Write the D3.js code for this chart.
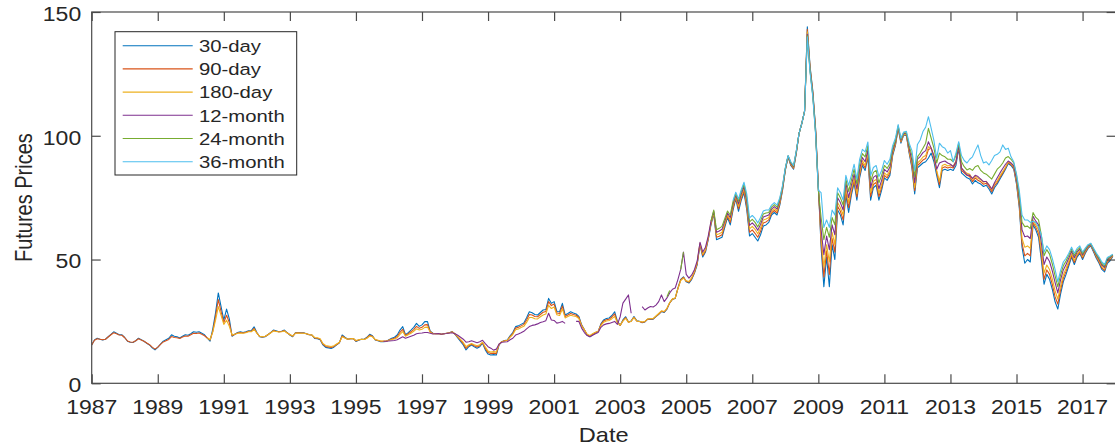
<!DOCTYPE html>
<html><head><meta charset="utf-8">
<script src="https://cdn.jsdelivr.net/npm/d3@7"></script>
<style>
html,body{margin:0;padding:0;background:#fff;}
svg{display:block;}
text{font-family:"Liberation Sans",Arial,Helvetica,sans-serif;fill:#262626;}
</style>
</head><body>
<svg id="chart" width="1115" height="446"></svg>
<script>
// ---------- data (monthly, Jan 1987 .. Dec 2017) ----------
const startYear = 1987;
const endYear = 2018;
const tickYears = [1987,1989,1991,1993,1995,1997,1999,2001,2003,2005,2007,2009,2011,2013,2015,2017];
const yTickValues = [0,50,100,150];
const seriesNames = ["30-day","90-day","180-day","12-month","24-month","36-month"];
const seriesColors = ["#0072BD","#D95319","#EDB120","#7E2F8E","#77AC30","#4DBEEE"];
const missing = n => Array(n).fill(null);

const d30 = [
15.5,17.5,18.2,17.8,17.5,17.8,18.8,19.8,20.8,20.2,19.6,19.6,
18.5,17.0,16.6,16.5,17.2,18.2,17.6,17.0,16.2,15.5,14.3,13.5,
14.5,15.8,17.0,17.6,18.2,19.6,19.0,18.8,18.3,19.0,19.6,19.4,
20.0,20.8,20.6,20.8,20.2,19.6,18.2,17.0,22.0,28.5,36.5,31.0,
25.5,30.0,26.0,19.0,19.8,20.5,20.8,20.5,20.8,21.2,21.3,22.8,
20.5,18.8,18.6,18.8,19.6,20.5,21.5,21.2,20.8,21.0,21.5,20.5,
19.5,18.8,20.4,20.5,20.4,20.4,20.0,19.6,19.5,18.1,18.0,17.6,
15.5,14.5,14.3,14.1,14.6,15.5,16.4,19.5,18.6,17.8,18.0,18.1,
16.9,17.4,17.8,17.8,18.6,19.8,19.2,17.5,17.2,16.8,16.8,16.9,
17.6,18.2,18.6,19.5,21.5,22.9,19.6,20.5,21.5,22.6,24.2,23.0,
23.6,24.9,24.9,21.0,20.2,20.0,20.1,19.8,20.0,20.2,20.4,20.9,
19.8,18.3,16.9,15.5,13.5,14.8,15.5,14.8,14.2,14.8,16.2,13.5,
11.8,11.4,11.6,11.4,15.5,16.8,17.3,17.5,19.2,20.5,22.9,23.2,
23.8,24.4,26.5,28.9,28.5,27.8,27.6,28.6,29.6,29.8,34.3,32.3,
33.0,29.0,28.9,32.3,27.6,28.2,28.9,28.4,28.0,27.0,23.6,21.6,
19.5,18.8,19.6,20.4,20.9,24.0,25.6,26.2,26.4,27.4,28.9,25.0,
23.4,25.6,26.9,24.8,25.2,27.0,25.3,25.1,24.5,24.8,25.9,26.0,
25.9,26.9,27.9,29.0,28.6,30.0,32.5,34.0,34.3,38.5,42.0,43.0,
41.0,40.5,42.0,44.5,48.0,56.0,51.0,53.0,58.0,64.0,68.5,58.0,
58.5,59.0,63.0,67.0,64.0,70.0,74.5,69.5,74.0,77.0,70.0,59.5,
60.5,59.0,57.5,60.0,63.5,64.0,65.0,68.0,69.0,68.0,72.0,78.0,
86.0,91.5,88.0,86.5,93.0,101.0,105.0,110.0,144.0,128.0,118.0,103.0,
80.0,55.0,39.0,51.0,39.0,56.0,50.0,70.0,68.0,64.0,76.0,69.0,
76.0,81.0,74.0,83.0,88.0,86.0,91.5,74.0,79.0,80.0,74.0,78.0,
83.0,82.0,84.0,92.0,96.0,103.0,97.0,100.3,100.0,93.0,87.0,76.5,
87.0,88.0,89.0,89.5,91.0,93.0,89.5,84.0,79.0,86.0,86.5,86.0,
86.5,86.0,88.0,95.0,85.0,84.0,83.0,82.5,80.5,82.0,81.0,80.5,
79.5,80.0,78.5,76.5,79.0,80.5,82.5,84.5,86.5,88.8,88.0,86.5,
80.5,71.0,55.0,48.5,50.0,49.0,64.0,62.0,59.0,50.0,40.0,44.0,
42.0,38.0,33.0,30.0,36.0,41.0,44.0,47.5,51.0,48.0,51.0,52.5,
50.0,52.5,54.5,55.5,53.0,50.5,48.5,46.0,45.0,48.5,49.5,51.2
];

const d90 = [
15.5,17.4,18.0,17.8,17.6,17.8,18.7,19.6,20.4,20.0,19.5,19.4,
18.4,17.1,16.7,16.6,17.2,18.0,17.5,17.0,16.3,15.6,14.6,13.8,
14.6,15.7,16.7,17.2,17.7,18.9,18.5,18.4,18.1,18.7,19.1,19.0,
19.6,20.2,20.1,20.3,19.8,19.2,18.3,17.5,21.0,27.0,33.8,29.0,
24.5,27.5,24.5,19.2,19.8,20.3,20.5,20.3,20.6,21.0,21.0,22.2,
20.4,18.9,18.7,18.9,19.6,20.4,21.3,21.0,20.8,20.9,21.3,20.4,
19.6,19.0,20.3,20.4,20.3,20.3,20.0,19.6,19.5,18.3,18.2,17.8,
15.8,14.9,14.7,14.5,14.9,15.7,16.5,19.1,18.4,17.8,18.0,18.1,
17.1,17.5,17.8,17.7,18.4,19.4,19.0,17.6,17.3,17.0,17.0,17.0,
17.5,17.9,18.2,18.9,20.6,21.8,19.3,20.0,20.8,21.7,23.0,22.2,
22.6,23.6,23.7,20.8,20.1,20.0,20.1,19.8,20.0,20.2,20.4,20.8,
19.9,18.6,17.3,16.0,14.1,15.2,15.8,15.2,14.7,15.2,16.4,14.1,
12.4,12.0,12.2,12.0,15.6,16.8,17.2,17.4,18.9,20.1,22.3,22.6,
23.2,23.8,25.6,27.8,27.6,27.0,26.9,27.8,28.7,29.0,33.0,31.4,
32.0,28.4,28.2,31.2,27.0,27.6,28.2,27.8,27.5,26.6,23.4,21.6,
19.6,19.0,19.8,20.5,20.9,23.7,25.2,25.7,25.9,26.8,28.0,24.7,
23.4,25.3,26.5,24.7,25.1,26.7,25.2,25.0,24.6,24.9,25.9,26.0,
26.0,27.0,28.0,29.1,28.8,30.1,32.5,34.0,34.4,38.4,41.8,42.8,
41.2,40.8,42.3,44.8,48.4,56.3,51.6,53.5,58.4,64.5,68.8,59.0,
59.4,60.0,63.8,67.6,65.0,70.8,75.0,70.5,74.8,77.8,71.2,61.0,
62.0,60.6,59.0,61.4,64.8,65.2,66.0,68.8,69.8,68.8,72.6,78.4,
86.2,91.6,88.3,86.8,93.2,101.0,105.0,110.0,143.0,127.5,117.5,102.5,
79.5,57.0,43.0,53.5,44.0,58.5,53.0,71.5,69.5,66.0,77.5,71.0,
77.2,82.0,75.3,84.0,89.0,87.0,92.3,75.5,80.3,81.2,75.4,79.2,
84.0,83.0,85.0,92.6,96.4,103.2,97.5,100.5,100.2,93.5,87.8,77.8,
88.0,89.0,90.2,90.8,94.5,95.0,91.0,85.3,80.3,87.0,87.5,87.0,
87.4,87.0,89.0,95.6,86.0,85.0,84.0,83.5,81.5,83.0,82.0,81.4,
80.4,80.8,79.4,77.4,79.8,81.2,83.2,85.0,87.0,89.2,88.4,87.0,
81.2,72.0,56.5,51.5,52.5,51.5,65.0,63.0,60.5,52.0,42.0,45.8,
44.0,40.0,35.0,32.0,37.6,42.4,45.2,48.4,51.7,48.8,51.6,53.0,
50.6,53.0,54.9,55.8,53.4,51.0,49.0,46.6,45.6,49.0,50.0,51.5
];

const d180 = [
...missing(36),
...missing(6),18.4,17.6,20.8,25.5,31.0,27.5,
23.8,25.5,23.0,19.5,19.8,20.2,20.3,20.2,20.4,20.8,20.8,21.8,
20.3,19.0,18.8,19.0,19.6,20.3,21.1,20.9,20.7,20.8,21.1,20.3,
19.7,19.1,20.2,20.3,20.2,20.2,20.0,19.7,19.5,18.5,18.4,18.0,
16.1,15.3,15.1,14.9,15.2,15.9,16.6,18.8,18.3,17.8,18.0,18.1,
17.3,17.6,17.8,17.7,18.2,19.1,18.8,17.7,17.4,17.1,17.1,17.1,
17.4,17.7,17.9,18.4,19.8,20.9,19.0,19.6,20.2,21.0,22.0,21.5,
21.8,22.6,22.7,20.6,20.0,20.0,20.1,19.8,20.0,20.2,20.4,20.7,
20.0,18.9,17.7,16.5,14.8,15.6,16.1,15.6,15.2,15.6,16.6,14.7,
13.0,12.6,12.8,12.6,15.7,16.8,17.1,17.3,18.6,19.7,21.6,21.9,
22.5,23.0,24.6,26.6,26.6,26.1,26.0,26.9,27.6,28.0,31.5,30.2,
30.8,27.7,27.4,30.0,26.4,27.0,27.5,27.2,27.0,26.2,23.2,21.6,
19.8,19.3,20.0,20.6,20.9,23.3,24.7,25.2,25.4,26.1,27.0,24.4,
23.5,25.1,26.2,24.7,25.1,26.5,25.2,25.0,24.8,25.0,26.0,26.2,
26.2,27.2,28.2,29.3,29.0,30.3,32.6,34.1,34.5,38.3,41.5,42.5,
41.4,41.1,42.7,45.2,48.8,56.6,52.2,54.0,58.8,64.9,69.0,60.0,
60.4,61.0,64.6,68.2,66.0,71.6,75.5,71.5,75.6,78.6,72.4,62.4,
63.4,62.2,60.4,62.8,66.0,66.4,67.0,69.6,70.6,69.6,73.2,78.8,
86.4,91.7,88.6,87.1,93.4,101.0,105.0,110.0,142.0,127.0,117.0,102.0,
79.0,59.0,47.0,56.0,49.0,61.0,56.0,73.0,71.0,68.0,79.0,73.0,
78.4,83.0,76.6,85.0,90.0,88.0,93.1,77.0,81.6,82.4,76.8,80.4,
85.0,84.0,86.0,93.2,96.8,103.4,97.8,100.7,100.4,94.0,88.6,79.0,
89.0,90.0,91.4,92.0,95.6,95.0,91.6,86.0,81.6,88.0,88.5,87.8,
88.2,87.8,89.8,96.0,86.8,85.8,84.8,84.4,82.4,83.8,82.8,82.2,
81.2,81.6,80.2,78.2,80.6,81.8,83.8,85.5,87.4,89.5,88.7,87.4,
81.8,73.0,58.5,55.0,55.5,54.5,66.0,64.0,62.0,54.0,44.5,47.8,
46.0,42.2,37.4,34.0,39.3,43.8,46.4,49.3,52.4,49.6,52.2,53.5,
51.2,53.4,55.2,56.0,53.7,51.4,49.5,47.2,46.2,49.5,50.4,51.7
];

const d12m = [
...missing(96),
...missing(10),17.0,17.0,
17.1,17.2,17.3,17.6,18.2,18.8,18.2,18.6,19.0,19.4,20.0,20.2,
20.3,20.5,20.5,20.2,19.9,20.0,20.1,19.8,20.0,20.1,20.3,20.4,
20.0,19.4,18.6,17.8,16.6,16.8,17.2,16.8,16.4,16.8,17.4,16.0,
14.8,14.2,13.4,13.8,15.9,16.6,16.7,16.8,17.6,18.2,19.5,19.9,
20.4,21.0,22.0,22.9,23.4,23.6,24.0,24.6,24.9,25.3,28.3,25.6,
25.4,24.3,24.6,25.0,24.2,null,null,null,25.0,25.0,22.3,20.5,
19.3,18.8,19.4,20.0,20.5,22.6,23.6,24.0,24.2,24.6,25.0,23.8,
26.9,32.4,34.0,35.7,28.3,null,null,null,31.0,29.6,30.4,31.0,
30.8,31.6,33.0,35.7,33.0,34.5,36.5,38.0,38.5,42.0,46.0,53.0,
44.0,42.5,43.8,46.0,49.5,57.0,53.0,55.0,59.5,65.5,69.5,61.0,
61.5,62.2,65.5,68.8,67.0,72.5,76.0,72.5,76.5,79.5,73.6,63.8,
64.8,63.6,61.8,64.2,67.2,67.6,68.0,70.4,71.4,70.4,73.8,79.2,
86.6,91.8,88.9,87.4,93.6,101.0,105.0,110.0,141.0,126.5,116.5,101.5,
78.5,62.0,52.0,59.5,54.0,64.0,60.0,75.0,73.0,70.0,81.0,75.0,
80.0,84.5,78.5,86.5,91.2,89.5,94.3,79.0,83.2,84.0,78.6,82.0,
86.4,85.4,87.4,94.0,97.4,103.6,98.2,101.0,100.8,95.0,90.0,81.0,
90.6,91.6,93.2,94.0,97.6,95.0,92.0,86.5,89.0,89.5,89.8,89.0,
88.5,87.5,89.5,96.0,87.0,85.5,84.2,84.0,82.8,84.0,83.5,82.5,
81.5,81.5,80.1,78.5,81.0,83.0,85.0,86.8,88.5,89.8,89.0,87.8,
82.6,74.5,62.0,59.2,59.5,58.5,67.5,65.5,64.0,57.0,48.0,51.0,
49.2,45.4,40.8,36.5,41.8,45.8,48.0,50.6,53.4,50.7,53.0,54.2,
51.8,53.8,55.5,56.2,54.0,51.8,50.0,47.8,46.8,50.0,50.8,51.9
];

const d24m = [
...missing(204),
null,null,null,null,null,35.0,37.5,null,null,null,46.0,53.0,
null,null,null,null,null,null,null,null,null,65.5,70.0,62.0,
62.6,63.4,66.5,69.6,68.0,73.4,76.6,73.5,77.4,80.4,75.0,65.2,
66.2,65.0,63.2,65.6,68.4,68.8,69.0,71.2,72.2,71.2,74.4,79.6,
86.8,91.9,89.2,87.7,93.8,101.0,105.0,110.0,140.5,126.0,116.0,101.0,
78.0,67.0,58.0,63.0,59.0,67.0,64.0,77.0,75.0,72.0,82.5,77.5,
82.0,86.5,80.5,88.5,92.8,91.5,96.0,81.5,85.2,86.0,81.0,84.0,
88.0,86.8,88.8,95.0,98.0,104.0,98.6,101.2,101.2,96.0,92.0,83.5,
91.5,93.0,95.0,97.0,103.0,99.0,95.0,89.0,93.0,92.0,91.5,90.5,
90.5,89.5,92.0,97.0,89.5,87.5,86.2,86.8,86.0,87.5,88.0,86.0,
85.0,84.5,83.5,82.5,84.5,86.5,87.5,89.0,91.0,91.6,90.5,89.0,
84.0,76.0,65.0,63.3,63.5,62.5,69.0,67.0,66.0,60.0,51.5,54.0,
52.2,48.2,43.5,39.0,43.8,47.5,49.4,51.7,54.2,51.6,53.7,54.8,
52.4,54.2,55.8,56.4,54.3,52.2,50.5,48.4,47.4,50.4,51.1,52.0
];

const d36m = [
...missing(228),
null,null,null,null,null,73.8,77.2,74.5,78.2,81.2,76.4,66.8,
67.8,66.6,64.8,67.0,69.6,70.0,70.0,72.0,73.0,72.0,75.0,80.0,
87.0,92.0,89.5,88.0,94.0,101.0,105.0,110.0,140.0,125.5,115.5,100.5,
78.0,77.0,63.0,66.0,63.0,70.0,68.0,79.0,77.0,74.0,84.0,80.0,
84.0,88.5,82.5,90.5,94.5,93.5,97.5,84.0,87.2,88.0,83.5,86.0,
90.0,88.5,90.5,96.0,99.0,104.5,99.0,101.5,101.8,97.0,94.0,86.0,
96.5,98.3,101.7,103.5,107.7,103.0,98.0,91.0,97.0,95.6,95.0,93.0,
94.0,89.5,93.0,97.6,92.0,90.0,89.0,90.5,91.5,94.0,96.3,92.0,
89.0,89.5,88.2,90.0,92.0,92.5,93.5,96.3,94.5,95.0,91.5,89.5,
84.5,78.0,68.0,66.0,66.0,65.0,65.5,65.0,63.0,60.0,53.0,55.5,
54.0,50.5,46.0,41.0,45.5,49.0,50.5,52.5,55.0,52.5,54.5,55.5,
53.0,54.6,56.0,56.6,54.6,52.6,51.0,49.0,48.0,50.8,51.4,52.2
];

const seriesData = [d30, d90, d180, d12m, d24m, d36m];
const monthDates = d30.map((_, i) => startYear + i / 12);

// ---------- layout ----------
const W = 1115, H = 446;
const M = {left: 91.7, right: 1115.6, top: 12, bottom: 383.3};
const SX = 1.18;           // horizontal stretch of glyphs in the reference
const TICK = 9;
const axisColor = "#4a4a4a";

const svg = d3.select("#chart");
svg.append("rect").attr("width", W).attr("height", H).attr("fill", "#fff");

const x = d3.scaleLinear().domain([startYear, endYear]).range([M.left, M.right]);
const y = d3.scaleLinear().domain([0, 150]).range([M.bottom, M.top]);

svg.append("clipPath").attr("id", "plotclip")
  .append("rect").attr("x", M.left).attr("y", M.top)
  .attr("width", M.right - M.left).attr("height", M.bottom - M.top);

// ---------- lines ----------
const line = d3.line()
  .defined(d => d != null)
  .x(d => x(d.t))
  .y(d => y(d.v));

const gLines = svg.append("g").attr("clip-path", "url(#plotclip)");
seriesData.forEach((arr, k) => {
  const pts = arr.map((v, i) => ({t: monthDates[i], v: v}));
  gLines.append("path")
    .attr("d", d3.line().defined(d => d.v != null).x(d => x(d.t)).y(d => y(d.v))(pts))
    .attr("fill", "none")
    .attr("stroke", seriesColors[k])
    .attr("stroke-width", 1.1)
    .attr("stroke-linejoin", "round");
});

// ---------- axes (box with inward ticks) ----------
function styleAxis(g) {
  g.select(".domain").remove();
  g.selectAll(".tick line").attr("stroke", axisColor).attr("stroke-width", 1.2);
  g.selectAll(".tick text").remove();
}
svg.append("g").attr("transform", `translate(0,${M.bottom})`)
  .call(d3.axisBottom(x).tickValues(tickYears).tickSize(-TICK).tickFormat("")).call(styleAxis);
svg.append("g").attr("transform", `translate(0,${M.top})`)
  .call(d3.axisTop(x).tickValues(tickYears).tickSize(-TICK).tickFormat("")).call(styleAxis);
svg.append("g").attr("transform", `translate(${M.left},0)`)
  .call(d3.axisLeft(y).tickValues(yTickValues).tickSize(-TICK).tickFormat("")).call(styleAxis);
svg.append("g").attr("transform", `translate(${M.right},0)`)
  .call(d3.axisRight(y).tickValues(yTickValues).tickSize(-TICK).tickFormat("")).call(styleAxis);

svg.append("rect")
  .attr("x", M.left).attr("y", M.top)
  .attr("width", M.right - M.left).attr("height", M.bottom - M.top)
  .attr("fill", "none").attr("stroke", axisColor).attr("stroke-width", 1.2);

function stext(px, py, str, size, anchor, extra) {
  return svg.append("text")
    .attr("transform", `translate(${px},${py}) scale(${SX},1)` + (extra || ""))
    .attr("text-anchor", anchor)
    .attr("font-size", size)
    .text(str);
}

// tick labels
tickYears.forEach(v => stext(x(v), M.bottom + 30.2, String(v), 19.5, "middle"));
yTickValues.forEach(v => stext(M.left - 10.5, y(v) + 8.8, String(v), 19.5, "end"));

// axis titles
stext((M.left + M.right) / 2, 441.5, "Date", 20, "middle");
stext(32, (M.top + M.bottom) / 2, "Futures Prices", 20, "middle", " rotate(-90)");

// ---------- legend ----------
const lg = {x: 115, y: 31.7, w: 181.7, h: 143.3, row0: 45.7, dy: 23.2};
svg.append("rect").attr("x", lg.x).attr("y", lg.y).attr("width", lg.w).attr("height", lg.h)
  .attr("fill", "#fff").attr("stroke", "#262626").attr("stroke-width", 1);
seriesNames.forEach((name, k) => {
  const ry = lg.row0 + k * lg.dy;
  svg.append("line").attr("x1", 122.7).attr("x2", 192.7).attr("y1", ry).attr("y2", ry)
    .attr("stroke", seriesColors[k]).attr("stroke-width", 1.1);
  stext(199, ry + 6.2, name, 17.2, "start");
});
</script>
</body></html>
